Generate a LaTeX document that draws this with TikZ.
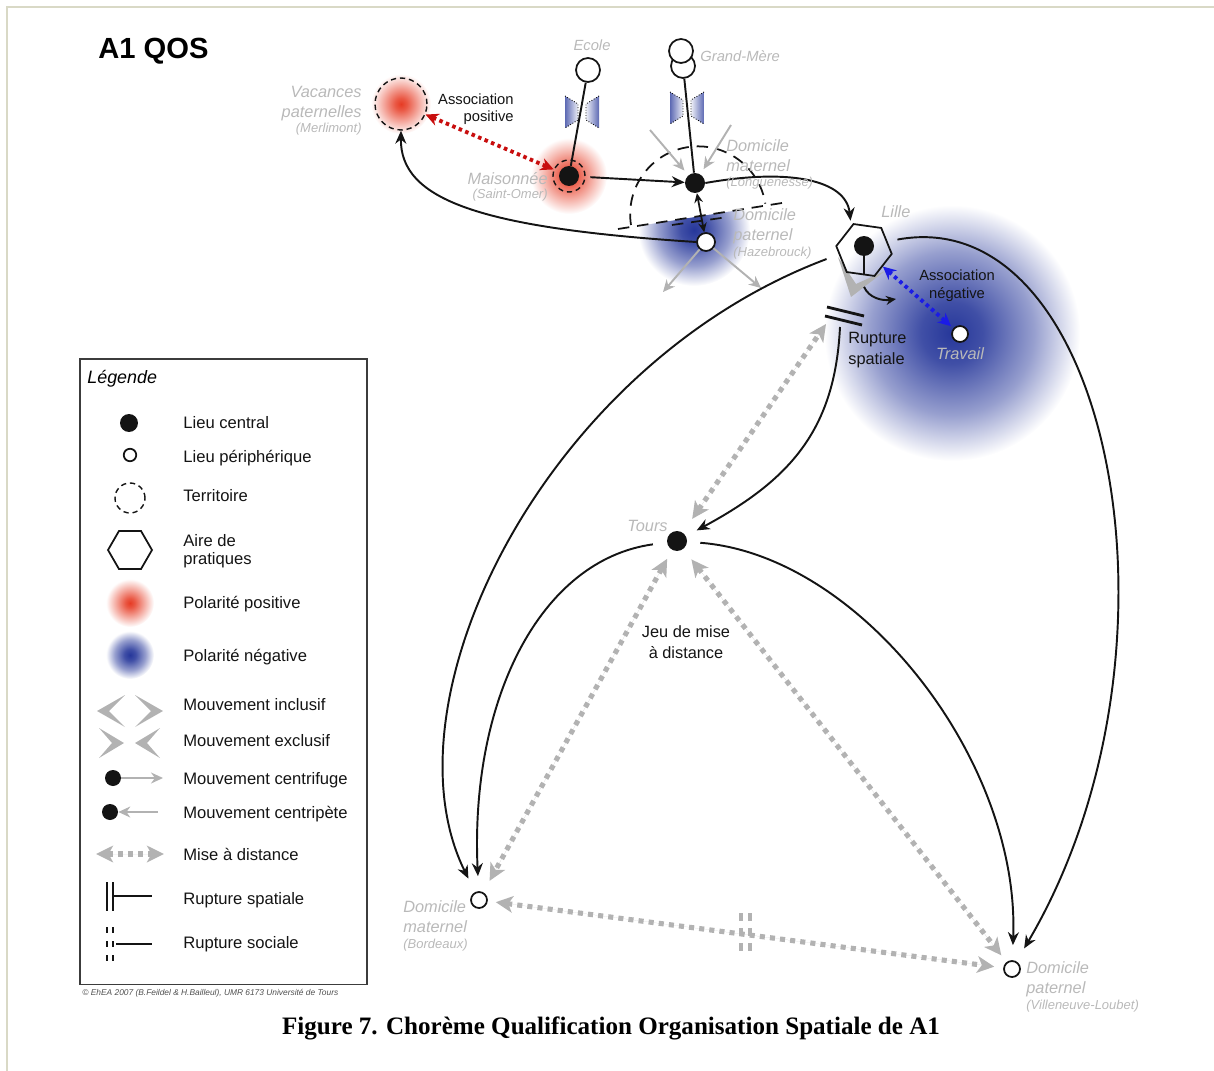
\documentclass[tikz,border=0pt]{standalone}
\usepackage{fontspec}
\usepackage{graphicx}
\setmainfont{Liberation Sans}
\newfontfamily\capfont{Liberation Serif}
\usetikzlibrary{arrows.meta, positioning, calc, shapes.geometric}
\definecolor{qsInk}{HTML}{141414}
\definecolor{qsLabel}{HTML}{B9B9B9}
\definecolor{qsMist}{HTML}{B2B2B2}
\definecolor{qsRed}{HTML}{C80E0E}
\definecolor{qsBlue}{HTML}{1B1BE6}
\definecolor{qsGlowR}{HTML}{E63B24}
\definecolor{qsGlowB}{HTML}{26379A}
\definecolor{qsFrame}{HTML}{D9D9C6}
\definecolor{qsBox}{HTML}{3C3C3C}
\pgfdeclareradialshading{glowred}{\pgfpoint{0bp}{0bp}}{%
  color(0bp)=(qsGlowR); color(5bp)=(qsGlowR!85!white);
  color(16bp)=(qsGlowR!38!white); color(25bp)=(white); color(50bp)=(white)}
\pgfdeclareradialshading{glowblue}{\pgfpoint{0bp}{0bp}}{%
  color(0bp)=(qsGlowB); color(6bp)=(qsGlowB!88!white);
  color(16bp)=(qsGlowB!48!white); color(25bp)=(white); color(50bp)=(white)}
\newcommand\qsSub[1]{{\fontsize{7.4}{9}\selectfont #1}}
\tikzset{
  central/.style={circle, fill=qsInk, inner sep=0pt, minimum size=4mm},
  periph/.style={circle, draw=qsInk, fill=white, line width=1pt,
    inner sep=0pt, minimum size=3.2mm},
  terr/.style={circle, draw=qsInk, line width=0.8pt,
    dash pattern=on 3pt off 2.2pt, inner sep=0pt, minimum size=10.4mm},
  aire/.style={regular polygon, regular polygon sides=6, draw=qsInk,
    line width=1pt, inner sep=0pt, minimum size=11.2mm},
  place/.style={font=\fontsize{9.3}{11.1}\selectfont\itshape,
    text=qsLabel, inner sep=0pt},
  placeS/.style={place, font=\fontsize{8.4}{10}\selectfont\itshape},
  note/.style={font=\fontsize{8.4}{10.2}\selectfont, text=qsInk, inner sep=0pt},
  legtxt/.style={font=\fontsize{9.45}{9.7}\selectfont, text=qsInk,
    inner sep=0pt, anchor=base west, align=left},
  link/.style={line width=1.1pt, draw=qsInk},
  flow/.style={-{Stealth[length=2.6mm, width=2.2mm]}, line width=1.1pt, draw=qsInk},
  shortflow/.style={{Stealth[length=1.9mm, width=1.7mm]}-{Stealth[length=1.9mm, width=1.7mm]},
    line width=1pt, draw=qsInk},
  mise/.style={{Stealth[length=3.4mm, width=3.3mm, inset=0.9mm]}-{Stealth[length=3.4mm, width=3.3mm, inset=0.9mm]},
    draw=qsMist, fill=qsMist, line width=2.9pt, dash pattern=on 2.9pt off 2.9pt,
    shorten <=2mm, shorten >=2mm},
  assoc/.style={{Stealth[length=2.6mm, width=2.5mm]}-{Stealth[length=2.6mm, width=2.5mm]},
    line width=2.2pt, dash pattern=on 2pt off 2pt},
  radial/.style={-{Stealth[length=2.4mm, width=2.2mm]}, line width=1.1pt, draw=qsMist},
  chev/.style={fill=qsMist},
  rupt/.style={line width=1.6pt, draw=qsInk},
  terrline/.style={line width=1pt, draw=qsInk, dash pattern=on 6.5pt off 4.5pt},
  blockage/.pic={
    \shade[left color=qsGlowB!75, right color=qsGlowB!8]
      (-17,-16) -- (-4,-8) -- (-4,8) -- (-17,16) -- cycle;
    \shade[left color=qsGlowB!8, right color=qsGlowB!75]
      (17,-16) -- (4,-8) -- (4,8) -- (17,16) -- cycle;
    \draw[densely dotted, line width=0.5pt]
      (-17,-16) -- (-4,-8) -- (-4,8) -- (-17,16)
      (17,-16) -- (4,-8) -- (4,8) -- (17,16);
  },
}

\begin{document}
\begin{tikzpicture}[x=0.02cm, y=-0.02cm]
  \useasboundingbox (0,0) rectangle (1214,1071);
  \draw[qsFrame, line width=0.8pt] (7,1071) -- (7,7) -- (1214,7);

  % polarities
  \shade[shading=glowred] (401,104) circle (30);
  \shade[shading=glowred] (569,176) circle (38);
  \begin{scope}
    \clip (600,232) -- (790,202) -- (790,320) -- (600,320) -- cycle;
    \shade[shading=glowblue] (694,230) circle (56);
  \end{scope}
  \shade[shading=glowblue] (952,333) circle (128);
  \pic at (582,112) {blockage};
  \pic at (687,108) {blockage};
  \fill[chev] (838,257) -- (851,297) -- (885,271) -- (856,284) -- cycle;
  \draw[terrline] (631,225) arc[start angle=171, end angle=351, radius=68];
  \draw[terrline] (618,229) -- (782,203);
  \draw[terrline] (672,225) -- (728,217);

  % places
  \node[terr] (vac) at (401,104) {};
  \node[central] (maison) at (569,176) {};
  \node[terr, minimum size=6.4mm] (maisonT) at (569,176) {};
  \node[periph, minimum size=4.8mm] (ecole) at (588,70) {};
  \node[periph, minimum size=4.8mm] (gm2) at (683,66) {};
  \node[periph, minimum size=4.8mm] (gm1) at (681,51) {};
  \node[central] (dommat) at (695,183) {};
  \node[periph, minimum size=3.6mm] (dompat) at (706,242) {};
  \node[aire, shape border rotate=-8] (lille) at (864,250) {};
  \node[central] (lilleC) at (864,246) {};
  \node[periph] (travail) at (960,334) {};
  \node[central] (tours) at (677,541) {};
  \node[periph] (bord) at (479,900) {};
  \node[periph] (ville) at (1012,969) {};
  \coordinate (rupt) at (840,327);
  \coordinate (ruptTip) at (826,324);
  \coordinate (lilleOut) at (896,299);
  \coordinate (inA) at (650,130);
  \coordinate (inB) at (731,125);
  \coordinate (outA) at (663,292);
  \coordinate (outB) at (761,288);

  % connectors
  \draw[link] (maison) -- (ecole);
  \draw[link] (dommat) -- (gm2);
  \draw[flow, shorten <=2.2mm] (maison) -- (dommat);
  \draw[shortflow] (dommat) -- (dompat);
  \draw[flow] (dompat.west) .. controls (480,228) and (400,200) .. (vac.south);
  \draw[flow, shorten >=1mm] (dommat.east) .. controls (790,168) and (846,180) .. (lille.118);
  \draw[assoc, qsRed] (vac) -- (maisonT);
  \draw[assoc, qsBlue, shorten >=0.6mm] (lille) -- (travail);
  \draw[radial, shorten >=1.2mm] (inA) -- (dommat);
  \draw[radial, shorten >=1.2mm] (inB) -- (dommat);
  \draw[radial] (dompat) -- (outA);
  \draw[radial] (dompat) -- (outB);
  \draw[link] (lilleC) -- (lille.south);
  \draw[flow, -{Stealth[length=2mm, width=1.8mm]}] ([yshift=-2.3mm]lille.south)
    .. controls (869,298) and (882,301) .. (lilleOut);
  \draw[rupt] (827,307) -- (864,316);
  \draw[rupt] (825,316) -- (862,325);
  \draw[flow, shorten <=2.6mm, shorten >=3mm] (lille.190)
    .. controls (545,365) and (380,700) .. (bord);
  \draw[flow, shorten <=2mm, shorten >=3mm] (lille.20)
    .. controls (1110,200) and (1200,650) .. (ville);
  \draw[flow, shorten >=2.4mm] (rupt) .. controls (835,430) and (790,480) .. (tours);
  \draw[flow, shorten <=2.8mm, shorten >=3mm] (tours)
    .. controls (540,560) and (470,700) .. (bord);
  \draw[flow, shorten <=2.6mm, shorten >=3mm] (tours)
    .. controls (860,555) and (1020,760) .. (ville);
  \draw[mise, shorten <=3.3mm, shorten >=0mm] (tours) -- (ruptTip);
  \draw[mise, shorten >=2.6mm] (tours) -- (bord);
  \draw[mise, shorten <=2.6mm, shorten >=1.7mm] (tours) -- (ville);
  \draw[mise, shorten <=1.6mm, shorten >=1.8mm] (bord) -- (ville);
  \draw[qsMist, line width=1.8pt, dash pattern=on 4.5pt off 4pt]
    (741,913) -- (741,957) (750,913) -- (750,957);

  % labels
  \node[anchor=base west, font=\fontsize{16.6}{20}\selectfont\bfseries, inner sep=0pt]
    (title) at (98,59) {A1 QOS};
  \node[place, align=right, anchor=base east] (vacLbl) at (362,133)
    {Vacances\\paternelles\\[-2pt]\qsSub{(Merlimont)}};
  \node[place, align=right, anchor=base east] (maisonLbl) at (548,199)
    {Maisonnée\\[-3.1pt]\qsSub{(Saint-Omer)}};
  \node[placeS, anchor=base] (ecoleLbl) at (592,51) {Ecole};
  \node[placeS, anchor=base west] (gmLbl) at (700,62) {Grand-Mère};
  \node[place, align=left, anchor=base west] (dommatLbl) at (726,187)
    {Domicile\\maternel\\[-2pt]\qsSub{(Longuenesse)}};
  \node[place, align=left, anchor=base west] (dompatLbl) at (733,256)
    {Domicile\\paternel\\[-2pt]\qsSub{(Hazebrouck)}};
  \node[place, anchor=base west] (lilleLbl) at (881,218) {Lille};
  \node[place, anchor=base] (travailLbl) at (960,359) {Travail};
  \node[place, anchor=base east] (toursLbl) at (668,531) {Tours};
  \node[place, align=left, anchor=base west] (bordLbl) at (403,948)
    {Domicile\\maternel\\[-2pt]\qsSub{(Bordeaux)}};
  \node[place, align=left, anchor=base west] (villeLbl) at (1026,1009)
    {Domicile\\paternel\\[-2pt]\qsSub{(Villeneuve-Loubet)}};
  \node[note, align=right, anchor=base east] (assocPos) at (514,122) {Association\\positive};
  \node[note, align=center, anchor=base] (assocNeg) at (957,298) {Association\\négative};
  \node[note, font=\fontsize{9.3}{11.4}\selectfont, align=left, anchor=base west]
    (ruptLbl) at (848,364) {Rupture\\spatiale};
  \node[note, font=\fontsize{9.3}{11.4}\selectfont, align=center, anchor=base]
    (jeuLbl) at (686,658) {Jeu de mise\\à distance};

  % legend
  \node[draw=qsBox, line width=0.9pt, minimum width=5.74cm, minimum height=12.52cm,
    inner sep=0pt, anchor=north west] (legend) at (79,358) {};
  \node[anchor=base west, font=\fontsize{10.2}{12}\selectfont\itshape, inner sep=0pt]
    (legTitle) at (87,383) {Légende};
  \node[central, minimum size=3.6mm] (lgCentral) at (129,423) {};
  \node[periph, minimum size=2.5mm] (lgPeriph) at (130,455) {};
  \node[terr, minimum size=6mm] (lgTerr) at (130,498) {};
  \node[aire, minimum size=8.8mm] (lgAire) at (130,550) {};
  \shade[shading=glowred] (130,603) circle (24);
  \shade[shading=glowblue] (130,655) circle (24);
  \fill[chev] (125,695) -- (97,711) -- (125,727) -- (109,711) -- cycle;
  \fill[chev] (135,695) -- (163,711) -- (135,727) -- (151,711) -- cycle;
  \fill[chev] (99,728) -- (124,743) -- (99,758) -- (112,743) -- cycle;
  \fill[chev] (160,728) -- (135,743) -- (160,758) -- (147,743) -- cycle;
  \node[central, minimum size=3.2mm] (lgFuge) at (113,778) {};
  \coordinate (lgFugeEnd) at (163,778);
  \draw[radial, line width=0.8pt] (lgFuge) -- (lgFugeEnd);
  \node[central, minimum size=3.2mm] (lgPete) at (110,812) {};
  \coordinate (lgPeteStart) at (158,812);
  \draw[radial, line width=0.8pt] (lgPeteStart) -- (lgPete);
  \coordinate (lgMiseA) at (96,854);
  \coordinate (lgMiseB) at (164,854);
  \draw[mise, shorten <=0pt, shorten >=0pt] (lgMiseA) -- (lgMiseB);
  \draw[rupt, line width=1.4pt] (107,882) -- (107,911) (113,882) -- (113,911)
    (113,896) -- (152,896);
  \draw[rupt, line width=1.4pt, dash pattern=on 3.4pt off 4.6pt]
    (107,927) -- (107,961) (113,927) -- (113,961);
  \draw[rupt, line width=1.4pt] (116,944) -- (152,944);
  \node[legtxt] (lgT1) at (183,428) {Lieu central};
  \node[legtxt] (lgT2) at (183,462) {Lieu périphérique};
  \node[legtxt] (lgT3) at (183,501) {Territoire};
  \node[legtxt] (lgT4) at (183,564) {Aire de\\pratiques};
  \node[legtxt] (lgT5) at (183,608) {Polarité positive};
  \node[legtxt] (lgT6) at (183,661) {Polarité négative};
  \node[legtxt] (lgT7) at (183,710) {Mouvement inclusif};
  \node[legtxt] (lgT8) at (183,746) {Mouvement exclusif};
  \node[legtxt] (lgT9) at (183,784) {Mouvement centrifuge};
  \node[legtxt] (lgT10) at (183,818) {Mouvement centripète};
  \node[legtxt] (lgT11) at (183,860) {Mise à distance};
  \node[legtxt] (lgT12) at (183,904) {Rupture spatiale};
  \node[legtxt] (lgT13) at (183,948) {Rupture sociale};
  \node[anchor=base west, inner sep=0pt, text=qsInk!75, font=\itshape] (credit) at (82,995)
    {\resizebox{5.12cm}{!}{© EhEA 2007 (B.Feildel \& H.Bailleul), UMR 6173 Université de Tours}};
  \node[inner sep=0pt, font=\capfont\bfseries] (caption) at (611,1028)
    {\resizebox{13.16cm}{!}{Figure 7. Chorème Qualification Organisation Spatiale de A1}};
\end{tikzpicture}
\end{document}
